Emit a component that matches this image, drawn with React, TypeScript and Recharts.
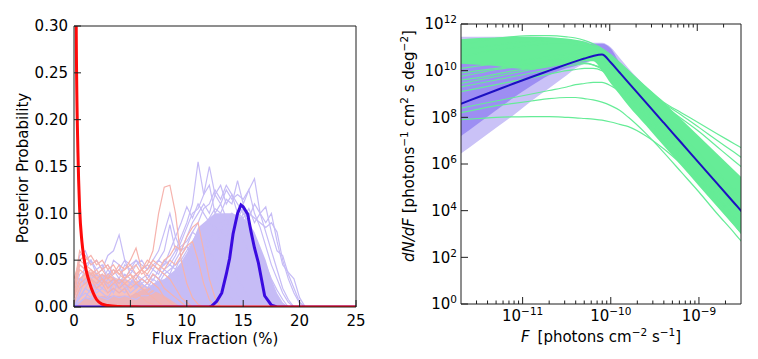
import { ComposedChart, Line, Area, XAxis, YAxis, Label } from 'recharts';

const FONT = '"DejaVu Sans", Verdana, sans-serif';
const FRAME = '#1e1e1e';
const FS = 15;

// ---------- left panel: flux-fraction posteriors ----------
const fractionTicks = [0, 5, 10, 15, 20, 25];
const probabilityTicks = [0, 0.05, 0.1, 0.15, 0.2, 0.25, 0.3];

// x grid (%) that the individual posterior draws were read on
const sampleFlux = [
  0, 0.5, 1, 1.5, 2, 2.5, 3, 3.5, 4, 4.5, 5, 5.5, 6, 6.5, 7, 7.5, 8, 8.5, 9, 9.5, 10,
  10.5, 11, 11.5, 12, 12.5, 13, 13.5, 14, 14.5, 15, 15.5, 16, 16.5, 17, 17.5, 18, 18.5,
  19, 19.5, 20, 20.5, 21,
];

const violetDraw1 = [0.01, 0.035, 0.04, 0.03, 0.035, 0.028, 0.04, 0.032, 0.025, 0.035, 0.03, 0.022, 0.03, 0.035, 0.028, 0.04, 0.045, 0.05, 0.06, 0.075, 0.09, 0.11, 0.155, 0.12, 0.13, 0.1, 0.11, 0.095, 0.085, 0.09, 0.07, 0.06, 0.05, 0.035, 0.02, 0.012, 0.005, 0];
const violetDraw2 = [0.005, 0.02, 0.045, 0.05, 0.04, 0.045, 0.03, 0.05, 0.045, 0.03, 0.04, 0.035, 0.025, 0.03, 0.04, 0.035, 0.05, 0.045, 0.055, 0.07, 0.085, 0.1, 0.105, 0.12, 0.15, 0.12, 0.13, 0.11, 0.12, 0.1, 0.105, 0.08, 0.07, 0.05, 0.04, 0.02, 0.01, 0.003, 0];
const violetDraw3 = [0, 0.01, 0.02, 0.03, 0.025, 0.035, 0.02, 0.03, 0.02, 0.025, 0.015, 0.02, 0.025, 0.02, 0.03, 0.025, 0.035, 0.04, 0.045, 0.05, 0.06, 0.07, 0.08, 0.085, 0.095, 0.105, 0.1, 0.115, 0.11, 0.135, 0.11, 0.125, 0.1, 0.085, 0.065, 0.045, 0.03, 0.015, 0.005, 0];
const violetDraw4 = [0, 0.005, 0.01, 0.02, 0.015, 0.02, 0.015, 0.025, 0.02, 0.015, 0.025, 0.02, 0.03, 0.025, 0.02, 0.03, 0.025, 0.035, 0.03, 0.04, 0.045, 0.055, 0.06, 0.07, 0.075, 0.085, 0.08, 0.095, 0.09, 0.1, 0.095, 0.105, 0.09, 0.1, 0.107, 0.08, 0.06, 0.055, 0.035, 0.02, 0.005, 0];
const violetDraw5 = [0.02, 0.055, 0.06, 0.045, 0.05, 0.04, 0.055, 0.06, 0.077, 0.05, 0.045, 0.05, 0.04, 0.045, 0.04, 0.05, 0.06, 0.088, 0.06, 0.065, 0.07, 0.08, 0.075, 0.07, 0.06, 0.05, 0.04, 0.03, 0.02, 0.012, 0.005, 0];
const violetDraw6 = [0.01, 0.03, 0.025, 0.035, 0.03, 0.025, 0.035, 0.04, 0.03, 0.045, 0.04, 0.05, 0.045, 0.04, 0.05, 0.06, 0.08, 0.1, 0.075, 0.06, 0.065, 0.055, 0.06, 0.05, 0.045, 0.035, 0.025, 0.015, 0.008, 0];
const violetDraw7 = [0, 0.01, 0.015, 0.01, 0.02, 0.015, 0.01, 0.02, 0.015, 0.02, 0.01, 0.015, 0.02, 0.015, 0.02, 0.025, 0.02, 0.02, 0.025, 0.03, 0.04, 0.045, 0.05, 0.06, 0.065, 0.07, 0.08, 0.075, 0.09, 0.085, 0.1, 0.095, 0.11, 0.1, 0.09, 0.1, 0.07, 0.045, 0.037, 0.03, 0.01, 0];
const violetDraw8 = [0, 0.015, 0.03, 0.025, 0.02, 0.03, 0.025, 0.015, 0.03, 0.02, 0.025, 0.03, 0.02, 0.025, 0.035, 0.03, 0.04, 0.035, 0.05, 0.06, 0.075, 0.09, 0.1, 0.11, 0.1, 0.12, 0.11, 0.125, 0.115, 0.12, 0.115, 0.125, 0.137, 0.1, 0.08, 0.06, 0.04, 0.02, 0.008, 0];
const violetDraw9 = [0.02, 0.045, 0.04, 0.05, 0.035, 0.04, 0.045, 0.035, 0.04, 0.05, 0.035, 0.045, 0.05, 0.04, 0.045, 0.05, 0.045, 0.06, 0.075, 0.09, 0.107, 0.095, 0.11, 0.1, 0.09, 0.085, 0.07, 0.06, 0.045, 0.03, 0.02, 0.01, 0.003, 0];
const violetDraw10 = [0, 0.005, 0.01, 0.008, 0.012, 0.01, 0.008, 0.012, 0.01, 0.012, 0.01, 0.008, 0.012, 0.012, 0.015, 0.02, 0.018, 0.025, 0.03, 0.035, 0.045, 0.05, 0.055, 0.065, 0.07, 0.08, 0.09, 0.085, 0.1, 0.095, 0.105, 0.1, 0.095, 0.09, 0.085, 0.09, 0.08, 0.05, 0.03, 0.015, 0.004, 0];
const violetDraw11 = [0, 0.01, 0.02, 0.015, 0.025, 0.02, 0.03, 0.025, 0.02, 0.03, 0.025, 0.035, 0.03, 0.025, 0.035, 0.03, 0.04, 0.045, 0.04, 0.055, 0.065, 0.08, 0.09, 0.105, 0.11, 0.125, 0.115, 0.13, 0.12, 0.11, 0.1, 0.09, 0.075, 0.06, 0.045, 0.03, 0.018, 0.008, 0];
const violetDraws = [violetDraw1, violetDraw2, violetDraw3, violetDraw4, violetDraw5, violetDraw6, violetDraw7, violetDraw8, violetDraw9, violetDraw10, violetDraw11];

const pinkDraw1 = [0.02, 0.05, 0.055, 0.045, 0.05, 0.04, 0.045, 0.035, 0.04, 0.03, 0.035, 0.025, 0.02, 0.015, 0.01, 0.005, 0];
const pinkDraw2 = [0.01, 0.03, 0.035, 0.03, 0.025, 0.03, 0.02, 0.025, 0.03, 0.025, 0.03, 0.035, 0.04, 0.045, 0.06, 0.1, 0.128, 0.13, 0.1, 0.05, 0.025, 0.01, 0.003, 0];
const pinkDraw3 = [0.01, 0.025, 0.03, 0.035, 0.03, 0.025, 0.035, 0.03, 0.025, 0.03, 0.035, 0.03, 0.04, 0.035, 0.045, 0.04, 0.05, 0.055, 0.065, 0.06, 0.075, 0.085, 0.09, 0.06, 0.03, 0.01, 0];
const pinkDraw4 = [0.03, 0.05, 0.045, 0.04, 0.035, 0.04, 0.03, 0.035, 0.045, 0.04, 0.05, 0.063, 0.04, 0.03, 0.025, 0.02, 0.01, 0.005, 0];
const pinkDraw5 = [0.005, 0.02, 0.025, 0.03, 0.02, 0.025, 0.015, 0.02, 0.015, 0.02, 0.01, 0.015, 0.01, 0.005, 0.003, 0];
const pinkDraw6 = [0.02, 0.06, 0.05, 0.055, 0.045, 0.05, 0.04, 0.045, 0.035, 0.04, 0.045, 0.035, 0.04, 0.05, 0.045, 0.04, 0.035, 0.03, 0.02, 0.01, 0.005, 0];
const pinkDraw7 = [0.015, 0.04, 0.035, 0.04, 0.03, 0.035, 0.03, 0.04, 0.035, 0.03, 0.04, 0.045, 0.035, 0.04, 0.05, 0.045, 0.04, 0.05, 0.045, 0.055, 0.065, 0.07, 0.05, 0.025, 0.008, 0];
const pinkDraw8 = [0.01, 0.045, 0.04, 0.035, 0.04, 0.03, 0.025, 0.03, 0.02, 0.025, 0.02, 0.025, 0.03, 0.025, 0.035, 0.03, 0.02, 0.015, 0.01, 0.005, 0];
const pinkDraws = [pinkDraw1, pinkDraw2, pinkDraw3, pinkDraw4, pinkDraw5, pinkDraw6, pinkDraw7, pinkDraw8];

// height up to which the overlapping draws look solid
const violetCover = [0, 0.005, 0.01, 0.01, 0.01, 0.012, 0.012, 0.012, 0.012, 0.012, 0.012, 0.015, 0.018, 0.02, 0.025, 0.028, 0.03, 0.035, 0.04, 0.048, 0.058, 0.07, 0.085, 0.09, 0.095, 0.1, 0.1, 0.1, 0.1, 0.098, 0.095, 0.09, 0.08, 0.065, 0.05, 0.03, 0.015, 0.005, 0];
const pinkCover = [0.005, 0.03, 0.038, 0.038, 0.035, 0.035, 0.033, 0.032, 0.03, 0.03, 0.028, 0.028, 0.025, 0.022, 0.018, 0.015, 0.012, 0.008, 0.004, 0];

const redFlux = [0, 0.2, 0.35, 0.5, 0.7, 0.9, 1.1, 1.4, 1.7, 2.0, 2.5, 3, 4, 5, 6, 25];
const redProb = [0.9, 0.29, 0.165, 0.105, 0.07, 0.051, 0.038, 0.025, 0.015, 0.008, 0.003, 0.0015, 0.0005, 0.0002, 0, 0];

const blueFlux = [0, 12, 12.2, 12.65, 13.1, 13.5, 13.8, 14.1, 14.5, 14.8, 15.0, 15.4, 15.7, 16.0, 16.35, 16.9, 17.5, 18, 25];
const blueProb = [0, 0, 0.001, 0.006, 0.015, 0.035, 0.052, 0.078, 0.1, 0.109, 0.107, 0.099, 0.08, 0.063, 0.047, 0.012, 0.002, 0, 0];

// ---------- right panel: source-count distribution (log10 values) ----------
const fluxMajorTicks = [1e-11, 1e-10, 1e-9];
const fluxMinorTicks = [
  3e-12, 4e-12, 5e-12, 6e-12, 7e-12, 8e-12, 9e-12,
  2e-11, 3e-11, 4e-11, 5e-11, 6e-11, 7e-11, 8e-11, 9e-11,
  2e-10, 3e-10, 4e-10, 5e-10, 6e-10, 7e-10, 8e-10, 9e-10, 2e-9,
];
const densityTicks = [1, 1e2, 1e4, 1e6, 1e8, 1e10, 1e12];

const fluxExponent = [-11.7, -11.5, -11.3, -11.1, -10.9, -10.7, -10.5, -10.4, -10.3, -10.2, -10.1, -10.0, -9.9, -9.8, -9.6, -9.4, -9.2, -9.0, -8.8, -8.6, -8.5];

const bestFit = [8.58, 8.87, 9.16, 9.45, 9.73, 10.0, 10.27, 10.4, 10.52, 10.63, 10.69, 10.35, 9.92, 9.49, 8.63, 7.77, 6.91, 6.05, 5.19, 4.33, 3.9];

const outerBandLow = [6.45, 7.0, 7.55, 8.1, 8.7, 9.25, 9.8, 10.1, 10.3, 10.45, 10.5, 10.0, 9.5, 9.05, 8.15, 7.25, 6.35, 5.45, 4.55, 3.65, 3.2];
const outerBandHigh = [11.45, 11.45, 11.45, 11.45, 11.45, 11.43, 11.35, 11.3, 11.25, 11.2, 11.2, 11.0, 10.55, 10.1, 9.3, 8.5, 7.7, 6.9, 6.1, 5.3, 4.95];
const innerBandLow = [7.2, 7.75, 8.3, 8.85, 9.35, 9.8, 10.1, 10.2, 10.35, 10.45, 10.5, 10.2, 9.75, 9.3, 8.4, 7.55, 6.7, 5.8, 4.95, 4.1, 3.7];
const innerBandHigh = [10.4, 10.45, 10.5, 10.55, 10.6, 10.7, 10.85, 10.95, 11.05, 11.15, 11.15, 10.95, 10.35, 9.95, 9.1, 8.3, 7.5, 6.7, 5.9, 5.1, 4.75];

// where the green draws overlap into a solid band
const drawCoreLow = [10.3, 10.25, 10.2, 10.1, 10.05, 10.15, 10.3, 10.35, 10.4, 10.4, 10.0, 9.45, 8.98, 8.5, 7.65, 6.78, 5.92, 5.06, 4.2, 3.34, 2.9];
const drawCoreHigh = [11.35, 11.4, 11.42, 11.45, 11.45, 11.43, 11.38, 11.33, 11.25, 11.1, 10.95, 10.65, 10.3, 9.95, 9.3, 8.65, 7.92, 7.19, 6.46, 5.73, 5.37];

const greenDraw1 = [11.1, 11.25, 11.38, 11.46, 11.5, 11.5, 11.45, 11.4, 11.3, 11.15, 10.95, 10.68, 10.35, 10.0, 9.3, 8.65, 8.2, 7.76, 7.31, 6.87, 6.65];
const greenDraw2 = [10.9, 11.0, 11.1, 11.2, 11.25, 11.3, 11.3, 11.25, 11.2, 11.05, 10.85, 10.6, 10.3, 9.95, 9.25, 8.6, 8.1, 7.57, 7.03, 6.5, 6.23];
const greenDraw3 = [10.6, 10.75, 10.9, 11.0, 11.1, 11.15, 11.15, 11.1, 11.05, 10.95, 10.8, 10.5, 10.15, 9.8, 9.1, 8.5, 7.95, 7.39, 6.76, 6.13, 5.82];
const greenDraw4 = [9.9, 10.0, 10.1, 10.2, 10.3, 10.4, 10.5, 10.55, 10.6, 10.6, 10.5, 10.2, 9.8, 9.4, 8.6, 7.85, 7.1, 6.35, 5.6, 4.85, 4.5];
const greenDraw5 = [9.6, 9.7, 9.85, 10.0, 10.1, 10.25, 10.4, 10.45, 10.5, 10.45, 10.35, 10.05, 9.65, 9.2, 8.35, 7.5, 6.6, 5.75, 4.9, 4.0, 3.6];
const greenDraw6 = [9.3, 9.45, 9.6, 9.75, 9.9, 10.05, 10.2, 10.25, 10.3, 10.25, 10.1, 9.8, 9.45, 9.05, 8.2, 7.35, 6.45, 5.55, 4.65, 3.75, 3.3];
const greenDraw7 = [9.1, 9.25, 9.4, 9.55, 9.7, 9.85, 10.0, 10.05, 10.1, 10.1, 10.0, 9.75, 9.4, 9.0, 8.1, 7.2, 6.3, 5.4, 4.5, 3.55, 3.1];
const greenDraw8 = [8.39, 8.55, 8.7, 8.85, 9.0, 9.15, 9.3, 9.4, 9.45, 9.5, 9.5, 9.35, 9.1, 8.75, 7.9, 7.0, 6.1, 5.2, 4.3, 3.4, 2.95];
const greenDraw9 = [8.2, 8.35, 8.5, 8.6, 8.7, 8.8, 8.85, 8.85, 8.8, 8.75, 8.65, 8.5, 8.3, 8.0, 7.3, 6.5, 5.65, 4.8, 3.9, 3.05, 2.6];
const greenDraw10 = [7.9, 7.95, 8.0, 8.02, 8.03, 8.03, 8.0, 7.98, 7.95, 7.92, 7.88, 7.8, 7.7, 7.6, 7.2, 6.65, 6.0, 5.3, 4.5, 3.6, 3.15];
const greenDraw11 = [10.1, 10.2, 10.3, 10.4, 10.5, 10.6, 10.7, 10.72, 10.72, 10.68, 10.55, 10.25, 9.88, 9.5, 8.7, 7.95, 7.2, 6.45, 5.7, 4.95, 4.6];
const greenDraw12 = [9.75, 9.9, 10.05, 10.15, 10.3, 10.45, 10.55, 10.6, 10.62, 10.55, 10.42, 10.1, 9.72, 9.3, 8.45, 7.6, 6.75, 5.9, 5.05, 4.2, 3.8];
const greenDraw13 = [9.45, 9.6, 9.75, 9.9, 10.05, 10.2, 10.3, 10.33, 10.33, 10.25, 10.05, 9.7, 9.3, 8.85, 8.0, 7.15, 6.3, 5.45, 4.6, 3.7, 3.25];
const greenDraws = [greenDraw1, greenDraw2, greenDraw3, greenDraw4, greenDraw5, greenDraw6, greenDraw7, greenDraw8, greenDraw9, greenDraw10, greenDraw11, greenDraw12, greenDraw13];

const VIOLET = '#c6bcf6';
const PINK = '#f6b3ad';
const GREEN = '#66ec97';

const toPoints = (xs: number[], ys: number[]) => ys.map((y, i) => ({ x: xs[i], y }));

const spectrumRows = fluxExponent.map((e, i) => {
  const row: Record<string, number | number[]> = {
    f: 10 ** e,
    best: 10 ** bestFit[i],
    outer: [10 ** outerBandLow[i], 10 ** outerBandHigh[i]],
    inner: [10 ** innerBandLow[i], 10 ** innerBandHigh[i]],
    core: [10 ** drawCoreLow[i], 10 ** drawCoreHigh[i]],
  };
  greenDraws.forEach((d, k) => {
    row[`g${k}`] = 10 ** d[i];
  });
  return row;
});

const fluxAllTicks = [...fluxMinorTicks, ...fluxMajorTicks].sort((a, b) => a - b);

const txt = { fontSize: FS, fontFamily: FONT, fill: '#000' };

const expText = (v: number) => {
  const p = Math.round(Math.log10(v));
  return p < 0 ? `\u2212${-p}` : `${p}`;
};

// tick mark drawn inward from the frame, plus optional label
function EdgeTick(props: any) {
  const { x, y, payload, side, majors, label } = props;
  const v = payload.value;
  const major = majors ? majors.includes(v) : true;
  const len = major ? 7 : 3.5;
  const dx = side === 'left' ? len : side === 'right' ? -len : 0;
  const dy = side === 'bottom' ? -len : side === 'top' ? len : 0;
  return (
    <g>
      <line x1={x} y1={y} x2={x + dx} y2={y + dy} stroke={FRAME} strokeWidth={1} />
      {major && label ? label(v, x, y) : null}
    </g>
  );
}

const fractionLabel = (v: number, x: number, y: number) => (
  <text x={x} y={y + 18.5} textAnchor="middle" {...txt}>{v}</text>
);
const probabilityLabel = (v: number, x: number, y: number) => (
  <text x={x - 6} y={y + 5.3} textAnchor="end" {...txt}>{v.toFixed(2)}</text>
);
const fluxLabel = (v: number, x: number, y: number) => (
  <text x={x} y={y + 17} textAnchor="middle" {...txt}>
    10<tspan dy={-6} fontSize={10.5}>{expText(v)}</tspan>
  </text>
);
const densityLabel = (v: number, x: number, y: number) => (
  <text x={x - 4} y={y + 5.3} textAnchor="end" {...txt}>
    10<tspan dy={-6} fontSize={10.5}>{expText(v)}</tspan>
  </text>
);

const edgeProps = { tickSize: 0, tickMargin: 0, tickLine: false, interval: 0 as const, stroke: FRAME };

function PosteriorPanel() {
  return (
    <ComposedChart width={380} height={359} margin={{ top: 16, right: 14, bottom: 0, left: 0 }}>
      <XAxis xAxisId="x" type="number" dataKey="x" domain={[0, 25]} ticks={fractionTicks} allowDataOverflow
        height={52} {...edgeProps} tick={(p: any) => <EdgeTick {...p} side="bottom" label={fractionLabel} />}>
        <Label content={() => (
          <text x={215} y={344} textAnchor="middle" {...txt}>Flux Fraction (%)</text>
        )} />
      </XAxis>
      <XAxis xAxisId="xTop" orientation="top" type="number" dataKey="x" domain={[0, 25]} ticks={fractionTicks}
        height={10} {...edgeProps} tick={(p: any) => <EdgeTick {...p} side="top" />} />
      <YAxis yAxisId="y" type="number" domain={[0, 0.3]} ticks={probabilityTicks} allowDataOverflow
        width={74} {...edgeProps} tick={(p: any) => <EdgeTick {...p} side="left" label={probabilityLabel} />}>
        <Label content={() => (
          <text x={28} y={168} transform="rotate(-90 28 168)" textAnchor="middle" {...txt}>Posterior Probability</text>
        )} />
      </YAxis>
      <YAxis yAxisId="yRight" orientation="right" type="number" domain={[0, 0.3]} ticks={probabilityTicks}
        width={10} {...edgeProps} tick={(p: any) => <EdgeTick {...p} side="right" />} />

      <Area xAxisId="x" yAxisId="y" data={toPoints(sampleFlux, violetCover)} dataKey="y" type="linear"
        stroke="none" fill={VIOLET} fillOpacity={1} isAnimationActive={false} />
      {violetDraws.map((d, i) => (
        <Line key={`v${i}`} xAxisId="x" yAxisId="y" data={toPoints(sampleFlux, d)} dataKey="y" type="linear"
          stroke={VIOLET} strokeWidth={1.2} dot={false} isAnimationActive={false} />
      ))}
      <Area xAxisId="x" yAxisId="y" data={toPoints(sampleFlux, pinkCover)} dataKey="y" type="linear"
        stroke="none" fill={PINK} fillOpacity={0.8} isAnimationActive={false} />
      {pinkDraws.map((d, i) => (
        <Line key={`p${i}`} xAxisId="x" yAxisId="y" data={toPoints(sampleFlux, d)} dataKey="y" type="linear"
          stroke={PINK} strokeWidth={1.2} dot={false} isAnimationActive={false} />
      ))}
      <Line xAxisId="x" yAxisId="y" data={toPoints(blueFlux, blueProb)} dataKey="y" type="linear"
        stroke="#3a0be0" strokeWidth={3} dot={false} isAnimationActive={false} />
      <Line xAxisId="x" yAxisId="y" data={toPoints(redFlux, redProb)} dataKey="y" type="monotone"
        stroke="#ff0a0a" strokeWidth={3} dot={false} isAnimationActive={false} />
    </ComposedChart>
  );
}

function SourceCountPanel() {
  const fluxDomain = [2e-12, 3e-9];
  const densityDomain = [1, 1e12];
  return (
    <ComposedChart width={378} height={359} data={spectrumRows} margin={{ top: 14, right: 7, bottom: 0, left: 0 }}>
      <XAxis xAxisId="x" dataKey="f" type="number" scale="log" domain={fluxDomain} allowDataOverflow
        ticks={fluxAllTicks} height={55} {...edgeProps}
        tick={(p: any) => <EdgeTick {...p} side="bottom" majors={fluxMajorTicks} label={fluxLabel} />}>
        <Label content={() => (
          <text x={221} y={342} textAnchor="middle" {...txt}>
            <tspan fontStyle="italic">F</tspan>
            <tspan dx={8}>[photons cm</tspan>
            <tspan dy={-6} fontSize={10.5}>{'\u22122'}</tspan>
            <tspan dy={6}>{' s'}</tspan>
            <tspan dy={-6} fontSize={10.5}>{'\u22121'}</tspan>
            <tspan dy={6}>]</tspan>
          </text>
        )} />
      </XAxis>
      <XAxis xAxisId="xTop" orientation="top" dataKey="f" type="number" scale="log" domain={fluxDomain}
        ticks={fluxAllTicks} height={10} {...edgeProps}
        tick={(p: any) => <EdgeTick {...p} side="top" majors={fluxMajorTicks} />} />
      <YAxis yAxisId="y" type="number" scale="log" domain={densityDomain} allowDataOverflow ticks={densityTicks}
        width={81} {...edgeProps} tick={(p: any) => <EdgeTick {...p} side="left" label={densityLabel} />}>
        <Label content={() => (
          <text x={33.5} y={146} transform="rotate(-90 33.5 146)" textAnchor="middle" {...txt}>
            <tspan fontStyle="italic">dN/dF</tspan>
            <tspan>{' [photons'}</tspan>
            <tspan dy={-6} fontSize={10.5}>{'\u22121'}</tspan>
            <tspan dy={6}>{' cm'}</tspan>
            <tspan dy={-6} fontSize={10.5}>2</tspan>
            <tspan dy={6}>{' s deg'}</tspan>
            <tspan dy={-6} fontSize={10.5}>{'\u22122'}</tspan>
            <tspan dy={6}>]</tspan>
          </text>
        )} />
      </YAxis>
      <YAxis yAxisId="yRight" orientation="right" type="number" scale="log" domain={densityDomain}
        ticks={densityTicks} width={10} {...edgeProps} tick={(p: any) => <EdgeTick {...p} side="right" />} />

      <Area xAxisId="x" yAxisId="y" dataKey="outer" type="monotone" stroke="none" fill="#cac2f7"
        fillOpacity={1} isAnimationActive={false} />
      <Area xAxisId="x" yAxisId="y" dataKey="inner" type="monotone" stroke="none" fill="#9d8ef3"
        fillOpacity={1} isAnimationActive={false} />
      <Area xAxisId="x" yAxisId="y" dataKey="core" type="monotone" stroke="none" fill={GREEN}
        fillOpacity={1} isAnimationActive={false} />
      {greenDraws.map((_, k) => (
        <Line key={`g${k}`} xAxisId="x" yAxisId="y" dataKey={`g${k}`} type="monotone" stroke={GREEN}
          strokeWidth={1.2} dot={false} isAnimationActive={false} />
      ))}
      <Line xAxisId="x" yAxisId="y" dataKey="best" type="monotone" stroke="#1c10c2" strokeWidth={2}
        dot={false} isAnimationActive={false} />
    </ComposedChart>
  );
}

export default function App() {
  return (
    <div style={{ position: 'absolute', left: 0, top: 0, width: 758, height: 359, background: '#fff' }}>
      <div style={{ position: 'absolute', left: 0, top: 0 }}>
        <PosteriorPanel />
      </div>
      <div style={{ position: 'absolute', left: 380, top: 0 }}>
        <SourceCountPanel />
      </div>
    </div>
  );
}
